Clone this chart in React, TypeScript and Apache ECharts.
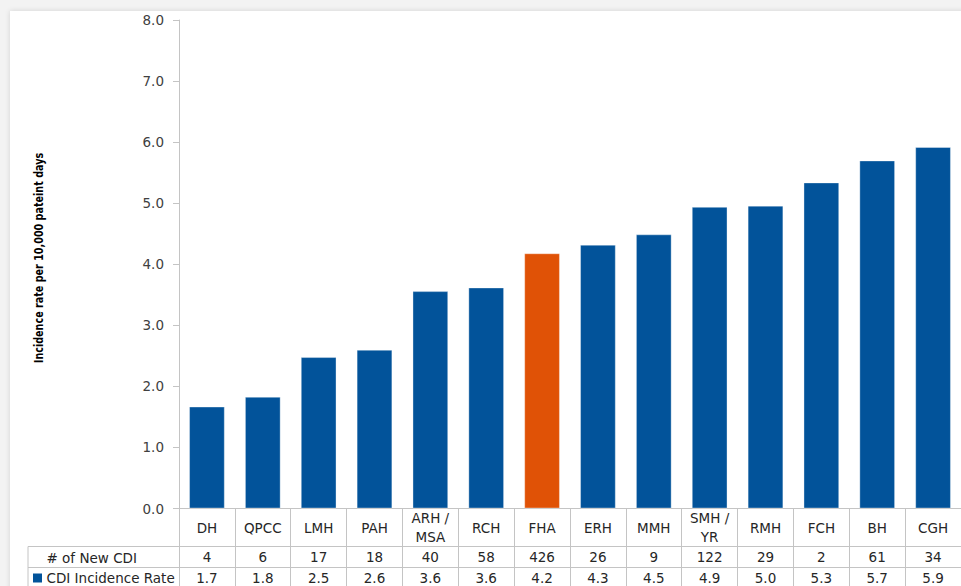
import React, { useEffect, useRef } from "react";
import * as echarts from "echarts";

// Facilities ordered by CDI incidence rate
const facilities = [
  "DH",
  "QPCC",
  "LMH",
  "PAH",
  "ARH /\nMSA",
  "RCH",
  "FHA",
  "ERH",
  "MMH",
  "SMH /\nYR",
  "RMH",
  "FCH",
  "BH",
  "CGH",
];
const newCdiCounts = [4, 6, 17, 18, 40, 58, 426, 26, 9, 122, 29, 2, 61, 34];
const incidenceRates = [1.67, 1.83, 2.48, 2.6, 3.56, 3.62, 4.18, 4.32, 4.49, 4.94, 4.96, 5.34, 5.7, 5.92];
const highlighted = "FHA";

const yMin = 0;
const yMax = 8;
const yStep = 1;

const BLUE = "#02539a";
const ORANGE = "#e05206";
const LINE = "#c4c4c4";
const TEXT = "#262626";
const FONT = "'DejaVu Sans', Verdana, sans-serif";
const FONT_SIZE = 13.5;

export default function App() {
  const ref = useRef<HTMLDivElement>(null);

  useEffect(() => {
    if (!ref.current) return;
    const chart = echarts.init(ref.current, undefined, { renderer: "svg" });

    const gridLeft = 179;
    const catWidth = 56.7;
    const zeroY = 508.5;
    const row1Y = 546.5;
    const row2Y = 567.5;

    const tableAxis = (labels: string[], offset: number, margin: number) => ({
      type: "category" as const,
      position: "bottom" as const,
      offset,
      data: labels,
      axisLine: { show: true, lineStyle: { color: LINE, width: 1 } },
      axisTick: { show: false },
      axisLabel: {
        interval: 0,
        margin,
        verticalAlign: "middle" as const,
        color: TEXT,
        fontFamily: FONT,
        fontSize: FONT_SIZE,
      },
    });

    chart.setOption({
      animation: false,
      backgroundColor: "#f3f3f3",
      grid: {
        left: gridLeft,
        top: 20,
        bottom: 586 - zeroY,
        width: catWidth * facilities.length,
        containLabel: false,
      },
      xAxis: [
        {
          type: "category",
          position: "bottom",
          data: facilities,
          axisLine: { show: true, lineStyle: { color: LINE, width: 1 } },
          axisTick: { show: true, length: 80, lineStyle: { color: LINE, width: 1 } },
          axisLabel: {
            interval: 0,
            margin: 19,
            verticalAlign: "middle",
            lineHeight: 18.5,
            color: TEXT,
            fontFamily: FONT,
            fontSize: FONT_SIZE,
          },
        },
        tableAxis(newCdiCounts.map(String), row1Y - zeroY, 10.5),
        tableAxis(incidenceRates.map((v) => v.toFixed(1)), row2Y - zeroY, 10.5),
      ],
      yAxis: {
        type: "value",
        min: yMin,
        max: yMax,
        interval: yStep,
        axisLine: { show: true, lineStyle: { color: LINE, width: 1 } },
        axisTick: { show: true, length: 6, lineStyle: { color: LINE, width: 1 } },
        splitLine: { show: false },
        axisLabel: {
          margin: 15,
          color: "#404040",
          fontFamily: FONT,
          fontSize: FONT_SIZE,
          formatter: (v: number) => v.toFixed(1),
        },
      },
      series: [
        {
          name: "CDI Incidence Rate",
          type: "bar",
          xAxisIndex: 0,
          barCategoryGap: "36%",
          data: incidenceRates.map((v, i) => ({
            value: v,
            itemStyle: { color: facilities[i] === highlighted ? ORANGE : BLUE },
          })),
          itemStyle: { borderColor: "rgba(255,255,255,0.35)", borderWidth: 1 },
        },
      ],
      graphic: [
        {
          type: "rect",
          z: -10,
          shape: { x: 10, y: 11, width: 1000, height: 700 },
          style: {
            fill: "#ffffff",
            shadowBlur: 5,
            shadowColor: "rgba(0,0,0,0.14)",
          },
        },
        {
          type: "text",
          x: 38,
          y: 258,
          rotation: Math.PI / 2,
          scaleX: 0.74,
          style: {
            text: "Incidence rate per 10,000 pateint days",
            fill: "#000000",
            font: "bold 13px 'DejaVu Sans', sans-serif",
            align: "center",
            verticalAlign: "middle",
          },
        },
        {
          type: "line",
          shape: { x1: 28, y1: row1Y, x2: gridLeft, y2: row1Y },
          style: { stroke: LINE, lineWidth: 1 },
        },
        {
          type: "line",
          shape: { x1: 28, y1: row2Y, x2: gridLeft, y2: row2Y },
          style: { stroke: LINE, lineWidth: 1 },
        },
        {
          type: "line",
          shape: { x1: 28, y1: row1Y, x2: 28, y2: 600 },
          style: { stroke: LINE, lineWidth: 1 },
        },
        {
          type: "text",
          x: 46.5,
          y: (row1Y + row2Y) / 2 + 0.5,
          style: {
            text: "# of New CDI",
            fill: TEXT,
            font: `${FONT_SIZE}px ${FONT}`,
            verticalAlign: "middle",
          },
        },
        {
          type: "rect",
          shape: { x: 33, y: 573.5, width: 9, height: 9 },
          style: { fill: BLUE },
        },
        {
          type: "text",
          x: 46.5,
          y: 578,
          style: {
            text: "CDI Incidence Rate",
            fill: TEXT,
            font: `${FONT_SIZE}px ${FONT}`,
            verticalAlign: "middle",
          },
        },
      ],
    });

    return () => chart.dispose();
  }, []);

  return (
    <div
      ref={ref}
      style={{ position: "fixed", left: 0, top: 0, width: 961, height: 586 }}
    />
  );
}
